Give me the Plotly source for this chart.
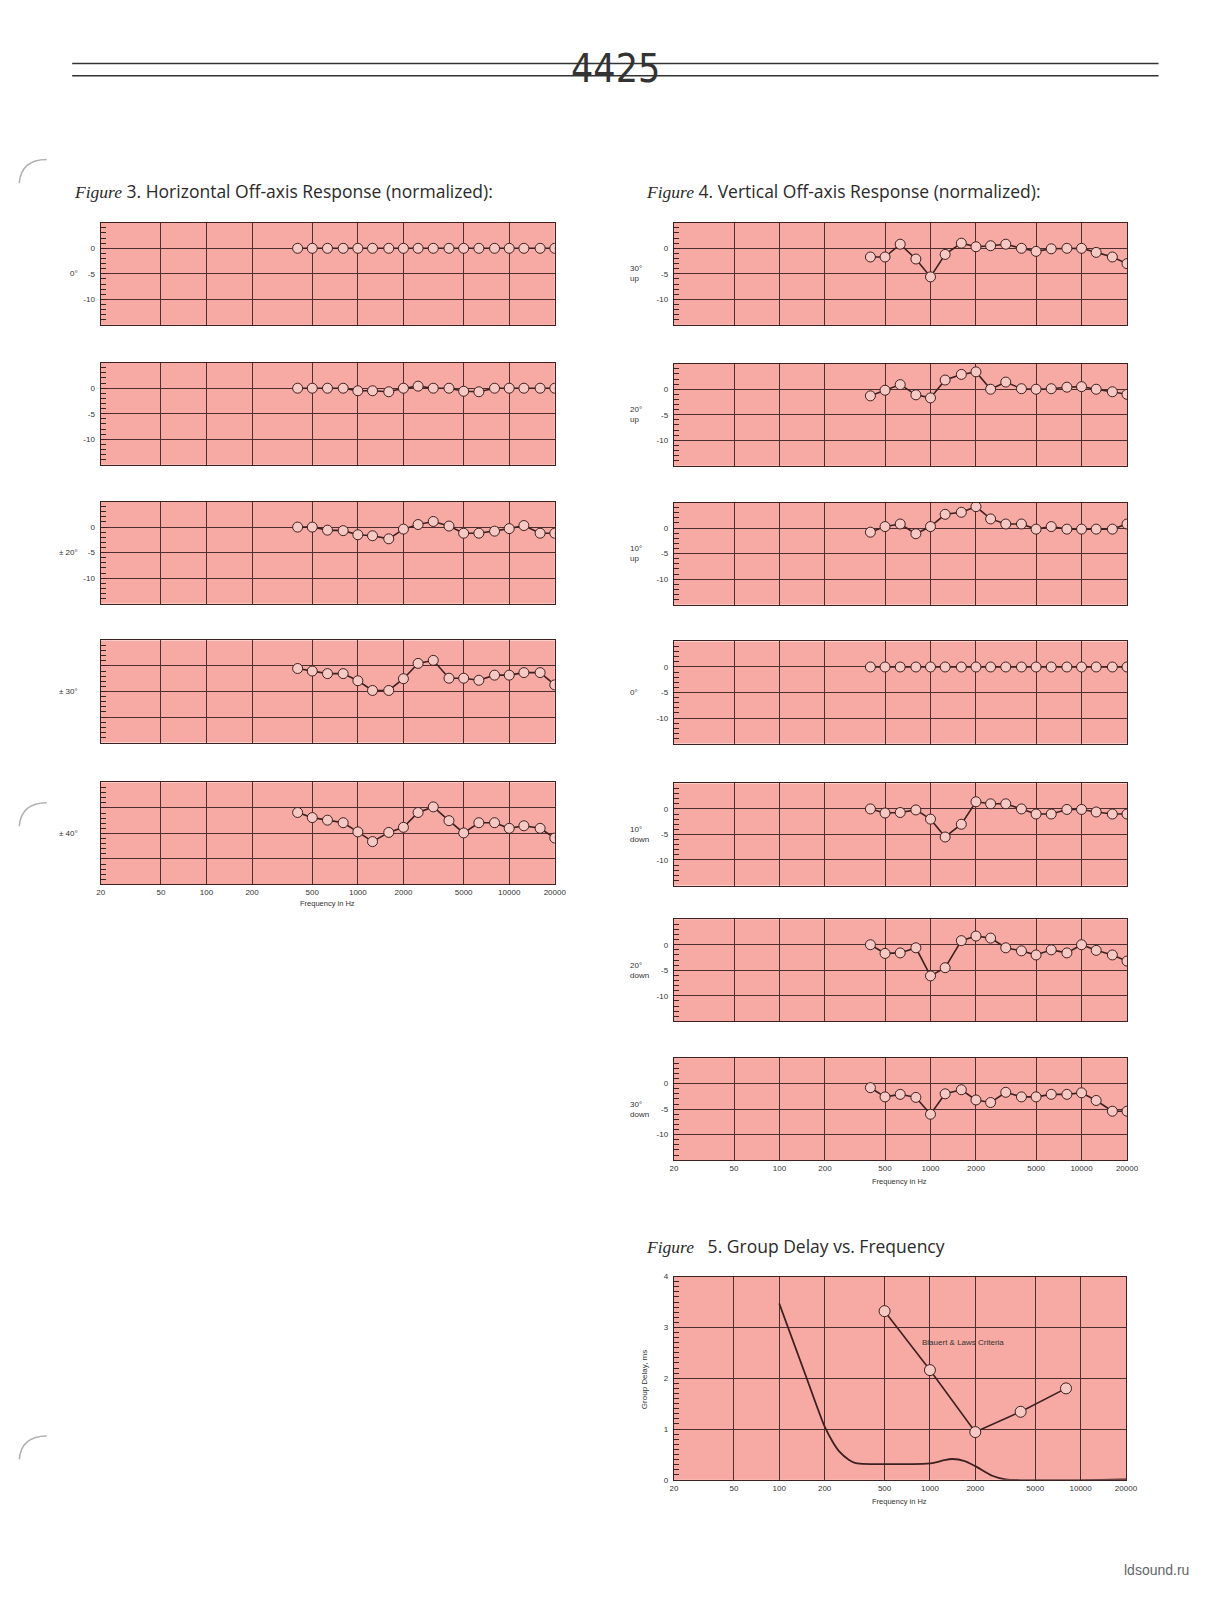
import plotly.graph_objects as go

# figure size (page minus the browser's body margin)
W, H = 1195, 1583

# 1/3 octave measurement points, Hz
freqs = [400, 500, 630, 800, 1000, 1250, 1600, 2000, 2500, 3150,
         4000, 5000, 6300, 8000, 10000, 12500, 16000, 20000]

# Figure 3 - horizontal off-axis, dB (normalized)
h_0 = [0, 0, 0, 0, 0, 0, 0, 0, 0, 0, 0, 0, 0, 0, 0, 0, 0, 0]
h_10 = [0, 0, 0, 0, -0.5, -0.5, -0.7, 0, 0.4, 0, 0, -0.6, -0.7, 0, 0, 0, 0, 0]
h_20 = [0, 0, -0.6, -0.7, -1.5, -1.7, -2.3, -0.4, 0.5, 1.1, 0.2, -1.2, -1.2, -0.8, -0.3, 0.3, -1.2, -1.2]
h_30 = [-0.5, -1.0, -1.5, -1.5, -2.9, -4.8, -4.8, -2.5, 0.5, 1.1, -2.4, -2.4, -2.8, -1.8, -1.8, -1.3, -1.3, -3.7]
h_40 = [-0.9, -1.9, -2.4, -2.9, -4.7, -6.6, -4.8, -3.8, -0.9, 0.2, -2.5, -4.9, -2.9, -2.9, -4.0, -3.5, -4.0, -5.9]

# Figure 4 - vertical off-axis, dB (normalized)
v_30u = [-1.7, -1.7, 0.8, -2.1, -5.6, -1.2, 1.0, 0.3, 0.5, 0.8, 0, -0.6, -0.1, 0, 0, -0.8, -1.7, -3.0]
v_20u = [-1.3, -0.2, 0.9, -1.1, -1.7, 1.8, 2.9, 3.4, 0, 1.4, 0.1, 0, 0.1, 0.4, 0.5, 0, -0.5, -1.0]
v_10u = [-0.8, 0.3, 0.8, -1.1, 0.3, 2.7, 3.1, 4.2, 1.8, 0.8, 0.8, -0.2, 0.3, -0.2, -0.2, -0.2, -0.2, 0.8]
v_0 = [0, 0, 0, 0, 0, 0, 0, 0, 0, 0, 0, 0, 0, 0, 0, 0, 0, 0]
v_10d = [0, -0.8, -0.7, -0.2, -2.0, -5.5, -3.0, 1.4, 1.0, 1.0, 0, -1.0, -1.0, -0.1, -0.1, -0.6, -1.0, -1.0]
v_20d = [0, -1.7, -1.6, -0.6, -6.1, -4.5, 0.8, 1.7, 1.3, -0.6, -1.2, -2.0, -1.0, -1.6, 0, -1.1, -2.0, -3.2]
v_30d = [-0.8, -2.6, -2.1, -2.7, -6.0, -2.0, -1.2, -3.2, -3.7, -1.7, -2.6, -2.6, -2.1, -2.1, -1.8, -3.3, -5.4, -5.4]

# Figure 5 - group delay, ms
gd_freq = [100, 150, 200, 226, 250, 291, 322, 1038, 1250, 1409, 1700, 2000, 2594, 3170, 20000]
gd_ms = [3.47, 2.05, 1.05, 0.75, 0.56, 0.39, 0.33, 0.33, 0.39, 0.41, 0.37, 0.27, 0.08, 0.01, 0.01]
crit_freq = [500, 1000, 2000, 4000, 8000]
crit_ms = [3.32, 2.16, 0.94, 1.34, 1.80]

freq_ticks = [20, 50, 100, 200, 500, 1000, 2000, 5000, 10000, 20000]
freq_labels = ["20", "50", "100", "200", "500", "1000", "2000", "5000", "10000", "20000"]
db_ticks = [0, -5, -10]
db_labels = ["0", "-5", "-10"]

left_series = [h_0, h_10, h_20, h_30, h_40]
left_names = ["0°", "", "± 20°", "± 30°", "± 40°"]
right_series = [v_30u, v_20u, v_10u, v_0, v_10d, v_20d, v_30d]
right_names = ["30°<br>up", "20°<br>up", "10°<br>up", "0°", "10°<br>down", "20°<br>down", "30°<br>down"]

PINK = "#f6aaa3"
INK = "#3d2020"
GRID = "#4e2e2e"
TXT = "#333333"
SMALL = dict(family="Liberation Sans, Arial", size=8, color=TXT)


# page positions are measured on the scanned sheet; convert them to figure px
def sx(p):
    return (p - 10.9) / 0.969


def sy(p):
    return (p - 10.6) / 0.9737


def px(p):
    return sx(p) / W


def py(p):
    return 1 - sy(p) / H


def note(x, y, text, **kw):
    d = dict(x=px(x), y=py(y), xref="paper", yref="paper", text=text, showarrow=False,
             xanchor="center", yanchor="middle", font=SMALL)
    d.update(kw)
    return d


fig = go.Figure()
layout = {}
annotations = []
n = 0


def add_axes(x0, x1, y0, y1, bottom, yrange, yticks, ylabels, show_y, minor_vals):
    global n
    n += 1
    xk = "xaxis" if n == 1 else f"xaxis{n}"
    yk = "yaxis" if n == 1 else f"yaxis{n}"
    layout[xk] = dict(
        type="log", domain=[px(x0), px(x1)], range=[1.30103, 4.30103],
        anchor=f"y{n}", tickmode="array", tickvals=freq_ticks, ticktext=freq_labels,
        showticklabels=bottom, ticks="", showgrid=True, gridcolor=GRID, gridwidth=1,
        showline=True, mirror=True, linecolor=INK, linewidth=1.3, zeroline=False,
        tickfont=SMALL,
    )
    layout[yk] = dict(
        domain=[py(y1), py(y0)], range=yrange, anchor=f"x{n}",
        tickmode="array", tickvals=yticks, ticktext=ylabels, showticklabels=show_y,
        ticks="inside", ticklen=6, tickcolor=INK, showgrid=True, gridcolor=GRID, gridwidth=1,
        showline=True, mirror=True, linecolor=INK, linewidth=1.3, zeroline=False,
        tickfont=SMALL, ticklabelstandoff=3,
        minor=dict(tickmode="array", tickvals=minor_vals, ticks="inside", ticklen=5,
                   tickcolor=INK, showgrid=False),
    )
    return f"x{n}", f"y{n}"


def response_trace(xa, ya, values):
    fig.add_trace(go.Scatter(
        x=freqs, y=values, xaxis=xa, yaxis=ya, mode="lines+markers",
        line=dict(color=INK, width=1.6),
        marker=dict(symbol="circle", size=10, color="#f7c9c4", line=dict(color=INK, width=1)),
        showlegend=False, hoverinfo="x+y",
    ))


db_minor = list(range(-15, 6))
PH = 100  # panel height on the sheet

# left column: Figure 3
left_tops = [217, 354, 490, 626, 765]
for i, top in enumerate(left_tops):
    xa, ya = add_axes(98, 544, top, top + PH, i == 4, [-15, 5], db_ticks, db_labels, i < 3, db_minor)
    response_trace(xa, ya, left_series[i])
    if left_names[i]:
        annotations.append(note(78, top + PH / 2, left_names[i], xanchor="right"))

# right column: Figure 4
right_tops = [217, 355, 491, 627, 766, 899, 1035]
for i, top in enumerate(right_tops):
    xa, ya = add_axes(661, 1106, top, top + PH, i == 6, [-15, 5], db_ticks, db_labels, True, db_minor)
    response_trace(xa, ya, right_series[i])
    annotations.append(note(616, top + PH / 2, right_names[i], xanchor="left", align="left"))

# Figure 5: group delay
gd_minor = [k / 10 for k in range(0, 41)]
xa, ya = add_axes(661, 1105, 1249, 1448, True, [0, 4], [0, 1, 2, 3, 4],
                  ["0", "1", "2", "3", "4"], True, gd_minor)
fig.add_trace(go.Scatter(
    x=gd_freq, y=gd_ms, xaxis=xa, yaxis=ya, mode="lines",
    line=dict(color=INK, width=1.8, shape="spline", smoothing=0.7),
    showlegend=False,
))
fig.add_trace(go.Scatter(
    x=crit_freq, y=crit_ms, xaxis=xa, yaxis=ya, mode="lines+markers",
    line=dict(color=INK, width=1.6),
    marker=dict(symbol="circle", size=11, color="#f7c9c4", line=dict(color=INK, width=1)),
    showlegend=False,
))
annotations.append(dict(x=3.22, y=2.71, xref=xa, yref=ya, text="Blauert & Laws Criteria",
                        showarrow=False, font=SMALL))
annotations.append(note(632, 1350, "Group Delay, ms", textangle=-90))

# frequency axis titles
for cx, cy in [(321, 884), (883, 1156), (883, 1469)]:
    annotations.append(note(cx, cy, "Frequency in Hz",
                            font=dict(family="Liberation Sans, Arial", size=7.5, color=TXT)))

# figure captions
cap_font = dict(family="Open Sans, Lato, sans-serif", size=17.5, color="#2a2a2a")
fig_word = '<span style="font-family:Liberation Serif, serif;font-style:italic">Figure</span>'
for cx, cy, txt in [
    (70, 186, fig_word + " 3. Horizontal Off-axis Response (normalized):"),
    (632, 186, fig_word + " 4. Vertical Off-axis Response (normalized):"),
    (632, 1219, fig_word + "   5. Group Delay vs. Frequency"),
]:
    annotations.append(note(cx, cy, txt, xanchor="left", font=cap_font))

# page header
annotations.append(note(604, 66, "4425",
                        font=dict(family="Liberation Sans Narrow, DejaVu Sans Condensed, Roboto",
                                  size=39, color="#333333")))
annotations.append(dict(x=1, y=0.004, xref="paper", yref="paper", text="ldsound.ru",
                        showarrow=False, xanchor="right", yanchor="bottom",
                        font=dict(family="Liberation Sans, Arial", size=14, color="#666666")))

shapes = []
for yy in [61, 73]:
    shapes.append(dict(type="line", xref="paper", yref="paper", x0=px(70), x1=px(1137),
                       y0=py(yy), y1=py(yy), line=dict(color="#333333", width=1.5), layer="below"))

# binder punch-hole marks at the left edge
for hy in [158, 788, 1408]:
    path = f"M {px(18)},{py(hy + 20)} Q {px(20)},{py(hy - 3)} {px(45)},{py(hy - 3)}"
    shapes.append(dict(type="path", xref="paper", yref="paper", path=path,
                       line=dict(color="#b0b0b0", width=1.5)))

fig.update_layout(
    width=W, height=H, margin=dict(l=0, r=0, t=0, b=0),
    paper_bgcolor="white", plot_bgcolor=PINK,
    annotations=annotations, shapes=shapes, **layout,
)

fig.write_html("out.html")
